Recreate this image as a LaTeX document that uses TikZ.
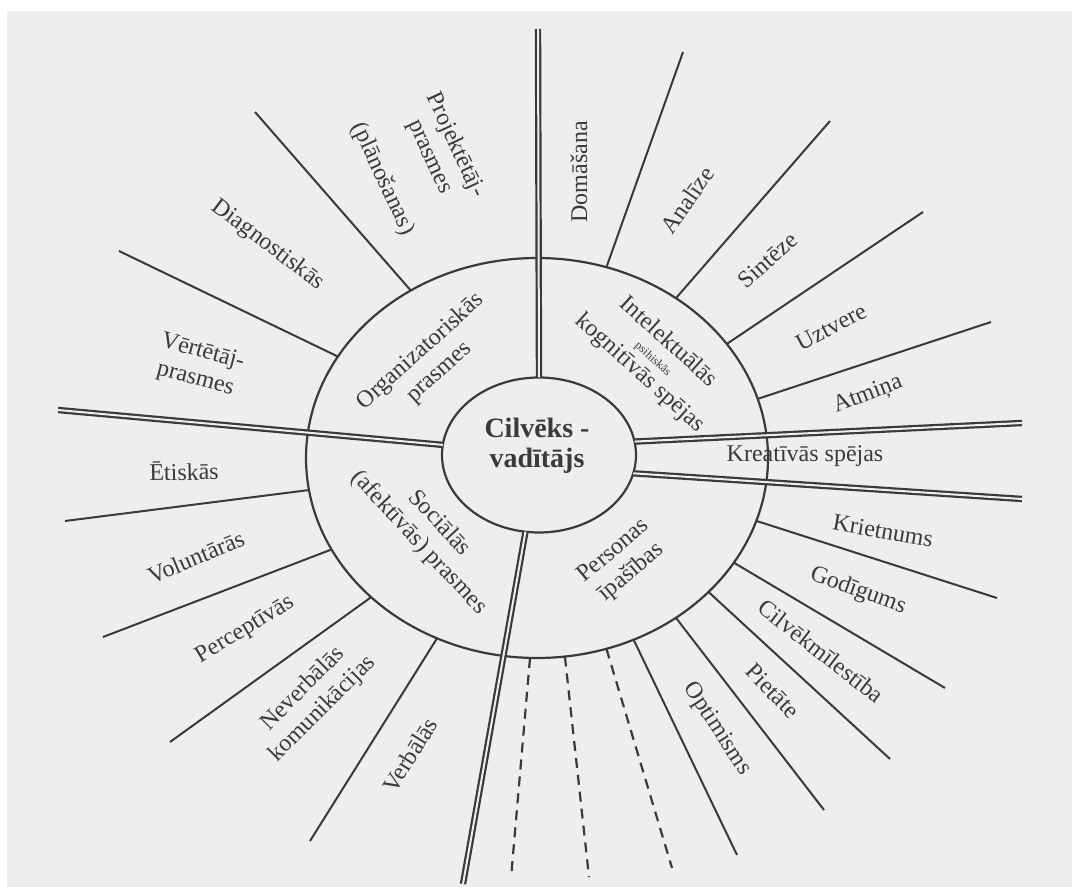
\documentclass[tikz,border=0pt]{standalone}
\usepackage{fontspec}
\setmainfont{Liberation Serif}
\usetikzlibrary{shapes.geometric}

\definecolor{paper}{HTML}{EEEEEE}
\definecolor{ink}{HTML}{3A3A3A}

\begin{document}
\begin{tikzpicture}[x=0.5pt, y=-0.5pt,
    ring/.style={ellipse, draw=ink, line width=1.1pt, inner sep=0pt, outer sep=0pt},
    ray/.style={draw=ink, line width=1pt},
    mainray/.style={draw=ink, line width=1.1pt, double=paper, double distance=1pt},
    openray/.style={draw=ink, line width=1.1pt, dash pattern=on 5pt off 3.5pt},
    lbl/.style={font=\fontsize{12}{14}\selectfont, text=ink, align=center, inner sep=0pt}]
            % Page
            \fill[white] (0,0) rectangle (1072,887);
            \fill[paper] (7,11) rectangle (1072,887);
            \useasboundingbox (0,0) rectangle (1072,887);

            % Rings
            \node[ring, minimum width=231pt, minimum height=200pt] (outer) at (537,458) {};
            \node[ring, minimum width=97pt, minimum height=77.5pt] (leader) at (539,455) {};
            \node[font=\fontsize{14}{15}\selectfont\bfseries, text=ink, align=center] (title) at (537,446) {Cilvēks -\\vadītājs};

            % Free ends
            \coordinate (topEnd) at (538,29);
            \coordinate (leftEnd) at (58,410);
            \coordinate (rightUpEnd) at (1022,423);
            \coordinate (rightLowEnd) at (1022,499);
            \coordinate (bottomEnd) at (463,884);
            \coordinate (planEnd) at (255,112);
            \coordinate (diagEnd) at (119,251);
            \coordinate (domEnd) at (683,52);
            \coordinate (analEnd) at (830,121);
            \coordinate (sintEnd) at (923,212);
            \coordinate (uztvEnd) at (991,322);
            \coordinate (krietEnd) at (997,598);
            \coordinate (godEnd) at (945,688);
            \coordinate (cilvEnd) at (890,759);
            \coordinate (pietEnd) at (824,810);
            \coordinate (optEnd) at (737,855);
            \coordinate (openA) at (672,868);
            \coordinate (openB) at (589,877);
            \coordinate (openC) at (511,878);
            \coordinate (verbEnd) at (310,841);
            \coordinate (neverbEnd) at (170,742);
            \coordinate (perceptEnd) at (103,637);
            \coordinate (etikEnd) at (65,521);

            % Main spokes
            \draw[mainray] (leader.90) -- (topEnd);
            \draw[mainray] (leader.174.6) -- (leftEnd);
            \draw[mainray] (leader.8.3) -- (rightUpEnd);
            \draw[mainray] (leader.-11) -- (rightLowEnd);
            \draw[mainray] (leader.-100.2) -- (bottomEnd);

            % Spokes
            \draw[ray] (outer.127.3) -- (planEnd);
            \draw[ray] (outer.153) -- (diagEnd);
            \draw[ray] (outer.70.7) -- (domEnd);
            \draw[ray] (outer.49.6) -- (analEnd);
            \draw[ray] (outer.31.5) -- (sintEnd);
            \draw[ray] (outer.15.6) -- (uztvEnd);
            \draw[ray] (outer.-16.2) -- (krietEnd);
            \draw[ray] (outer.-28) -- (godEnd);
            \draw[ray] (outer.-38.9) -- (cilvEnd);
            \draw[ray] (outer.-49.4) -- (pietEnd);
            \draw[ray] (outer.-62.8) -- (optEnd);
            \draw[openray] (outer.-70.8) -- (openA);
            \draw[openray] (outer.-82.3) -- (openB);
            \draw[openray] (outer.-92.5) -- (openC);
            \draw[ray] (outer.-119.1) -- (verbEnd);
            \draw[ray] (outer.-140) -- (neverbEnd);
            \draw[ray] (outer.-156.4) -- (perceptEnd);
            \draw[ray] (outer.-172.8) -- (etikEnd);

            % Inner labels
            \node[lbl, rotate=42] (organiz) at (430,362) {Organizatoriskās\\prasmes};
            \node[lbl, rotate=-42] (intelekt) at (654,358) {Intelektuālās\\[-4pt]{\fontsize{6}{7}\selectfont psihiskās}\\[-3pt]kognitīvās spējas};
            \node[lbl, rotate=-47] (social) at (429,533) {Sociālās\\(afektīvās) prasmes};
            \node[lbl, rotate=40] (personas) at (623,562) {Personas\\īpašības};
            \node[lbl] (kreativ) at (805,456) {Kreatīvās spējas};

            % Outer labels
            \node[lbl, rotate=-65] (projekt) at (419,162) {Projektētāj-\\prasmes\\[12pt](plānošanas)};
            \node[lbl, rotate=-37] (diagn) at (268,245) {Diagnostiskās};
            \node[lbl, rotate=-15] (vertet) at (199,366) {Vērtētāj-\\prasmes};
            \node[lbl, rotate=90] (domas) at (579,172) {Domāšana};
            \node[lbl, rotate=55] (analize) at (687,200) {Analīze};
            \node[lbl, rotate=42] (sinteze) at (768,260) {Sintēze};
            \node[lbl, rotate=28] (uztvere) at (831,327) {Uztvere};
            \node[lbl, rotate=21] (atmina) at (868,395) {Atmiņa};
            \node[lbl, rotate=-10] (krietn) at (883,531) {Krietnums};
            \node[lbl, rotate=-20] (godig) at (858,591) {Godīgums};
            \node[lbl, rotate=-38] (cilvekm) at (821,651) {Cilvēkmīlestība};
            \node[lbl, rotate=-46] (pietate) at (773,691) {Pietāte};
            \node[lbl, rotate=-57] (optim) at (717,729) {Optimisms};
            \node[lbl, rotate=58] (verbal) at (410,755) {Verbālās};
            \node[lbl, rotate=45] (neverb) at (313,699) {Neverbālās\\komunikācijas};
            \node[lbl, rotate=31] (percept) at (245,630) {Perceptīvās};
            \node[lbl, rotate=23] (volunt) at (196,557) {Voluntārās};
            \node[lbl, rotate=1] (etiskas) at (184,471) {Ētiskās};
        \end{tikzpicture}
\end{document}
